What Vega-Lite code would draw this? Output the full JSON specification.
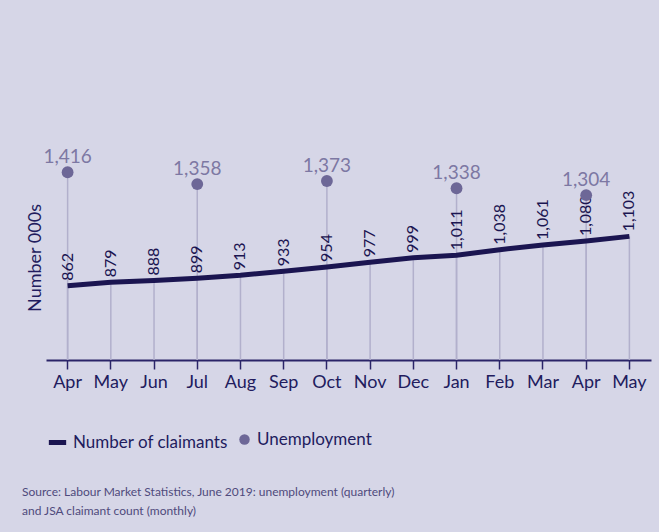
{
  "$schema": "https://vega.github.io/schema/vega-lite/v6.json",
  "autosize": "none",
  "width": 605,
  "height": 205,
  "padding": {"left": 46, "top": 155, "right": 8, "bottom": 172},
  "background": "#d6d6e7",
  "config": {
    "view": {"stroke": null},
    "font": "Lato"
  },
  "title": {
    "text": ["Source: Labour Market Statistics, June 2019: unemployment (quarterly)", "and JSA claimant count (monthly)"],
    "orient": "bottom",
    "anchor": "start",
    "frame": "group",
    "dx": -24,
    "offset": 34,
    "fontSize": 12,
    "fontWeight": "normal",
    "color": "#4f4a7c",
    "lineHeight": 19
  },
  "data": {
    "values": [
      {"period": "Apr 2018", "claimants": 862, "unemployment": 1416},
      {"period": "May 2018", "claimants": 879, "unemployment": null},
      {"period": "Jun 2018", "claimants": 888, "unemployment": null},
      {"period": "Jul 2018", "claimants": 899, "unemployment": 1358},
      {"period": "Aug 2018", "claimants": 913, "unemployment": null},
      {"period": "Sep 2018", "claimants": 933, "unemployment": null},
      {"period": "Oct 2018", "claimants": 954, "unemployment": 1373},
      {"period": "Nov 2018", "claimants": 977, "unemployment": null},
      {"period": "Dec 2018", "claimants": 999, "unemployment": null},
      {"period": "Jan 2019", "claimants": 1011, "unemployment": 1338},
      {"period": "Feb 2019", "claimants": 1038, "unemployment": null},
      {"period": "Mar 2019", "claimants": 1061, "unemployment": null},
      {"period": "Apr 2019", "claimants": 1080, "unemployment": 1304},
      {"period": "May 2019", "claimants": 1103, "unemployment": null}
    ]
  },
  "encoding": {
    "x": {
      "field": "period",
      "type": "ordinal",
      "sort": null,
      "scale": {"paddingInner": 0, "paddingOuter": 0},
      "axis": {
        "title": null,
        "labelExpr": "slice(datum.value, 0, 3)",
        "labelAngle": 0,
        "labelFontSize": 18,
        "labelColor": "#221c5e",
        "labelPadding": 4,
        "tickSize": 9,
        "tickColor": "#2a2468",
        "tickWidth": 1.5,
        "domainColor": "#2a2468",
        "domainWidth": 2,
        "grid": false
      }
    }
  },
  "layer": [
    {
      "mark": {"type": "bar", "color": "#b2b0cc", "size": 1.5, "clip": true},
      "encoding": {
        "y": {"field": "claimants", "type": "quantitative", "scale": {"domain": [500, 1500], "zero": false},
          "axis": {"title": "Number 000s", "labels": false, "ticks": false, "domain": false, "grid": false, "titleFontSize": 18, "titleColor": "#221c5e", "titleFontWeight": "normal", "titlePadding": 2}}
      }
    },
    {
      "transform": [{"filter": "datum.unemployment != null"}],
      "mark": {"type": "bar", "color": "#b2b0cc", "size": 1.5, "clip": true},
      "encoding": {
        "y": {"field": "unemployment", "type": "quantitative"}
      }
    },
    {
      "mark": {"type": "line", "strokeWidth": 5},
      "encoding": {
        "y": {"field": "claimants", "type": "quantitative"},
        "stroke": {
          "datum": "Number of claimants",
          "type": "nominal",
          "scale": {"range": ["#1b1551"]},
          "legend": {"title": null, "orient": "bottom", "offset": 40, "labelFontSize": 17, "labelLimit": 0, "labelColor": "#221c5e", "symbolStrokeWidth": 5, "symbolSize": 300}
        }
      }
    },
    {
      "mark": {"type": "text", "angle": 270, "align": "left", "baseline": "middle", "dx": 5, "fontSize": 16, "color": "#1b1551"},
      "encoding": {
        "y": {"field": "claimants", "type": "quantitative"},
        "text": {"field": "claimants", "type": "quantitative", "format": ","}
      }
    },
    {
      "transform": [{"filter": "datum.unemployment != null"}],
      "mark": {"type": "point", "filled": true, "size": 140, "opacity": 1},
      "encoding": {
        "y": {"field": "unemployment", "type": "quantitative"},
        "fill": {
          "datum": "Unemployment",
          "type": "nominal",
          "scale": {"range": ["#6d6797"]},
          "legend": {"title": null, "orient": "bottom", "offset": 40, "labelFontSize": 17, "labelLimit": 0, "labelColor": "#221c5e", "symbolSize": 110, "symbolOpacity": 1}
        }
      }
    },
    {
      "transform": [{"filter": "datum.unemployment != null"}],
      "mark": {"type": "text", "dy": -15, "fontSize": 19, "color": "#7d78a3"},
      "encoding": {
        "y": {"field": "unemployment", "type": "quantitative"},
        "text": {"field": "unemployment", "type": "quantitative", "format": ","}
      }
    }
  ]
}
